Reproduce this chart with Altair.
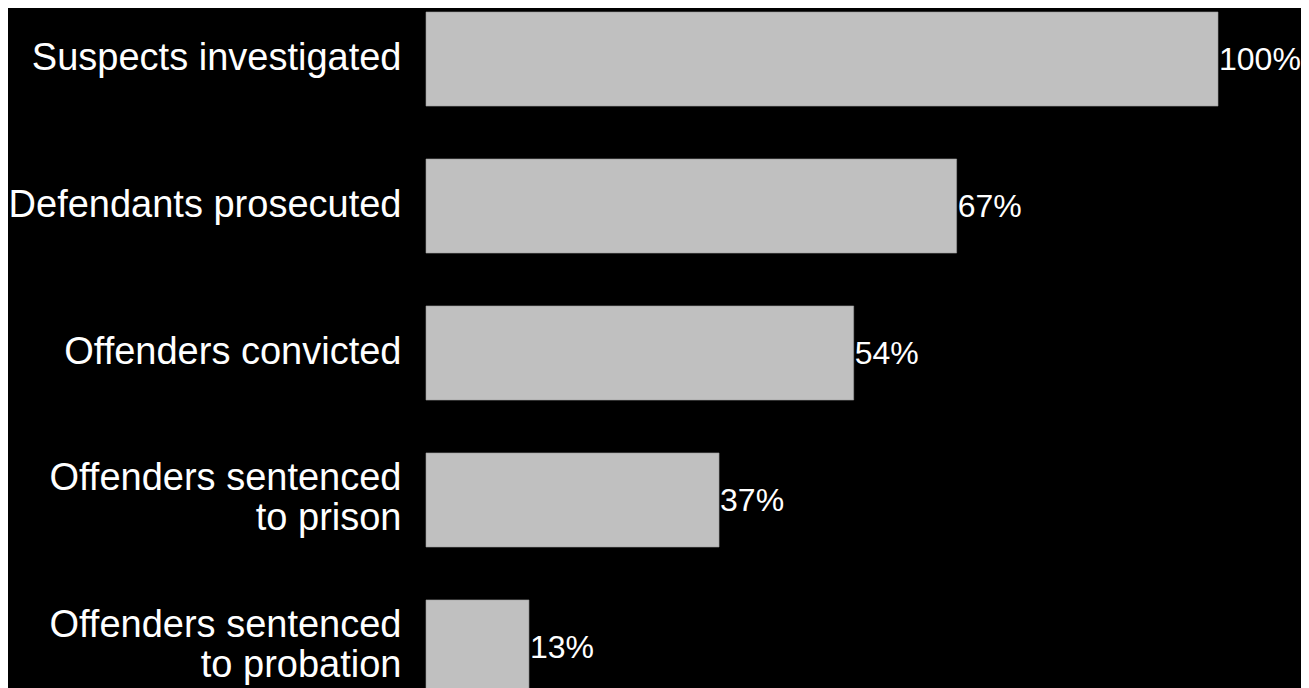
import altair as alt
import pandas as pd

categories = [
    "Suspects investigated",
    "Defendants prosecuted",
    "Offenders convicted",
    "Offenders sentenced to prison",
    "Offenders sentenced to probation",
]
percentages = [100, 67, 54, 37, 13]

df = pd.DataFrame({"stage": categories, "pct": percentages})
df["label"] = df["pct"].astype(str) + "%"

FONT = "Liberation Sans, Arial, Helvetica, sans-serif"

split_expr = (
    "indexof(datum.label, ' to ') > 0 ? "
    "[substring(datum.label, 0, indexof(datum.label, ' to ')), "
    "substring(datum.label, indexof(datum.label, ' to ') + 1)] : datum.label"
)

y_enc = alt.Y(
    "stage:N",
    sort=categories,
    scale=alt.Scale(paddingInner=0.36, paddingOuter=0),
    axis=alt.Axis(
        title=None,
        domain=False,
        ticks=False,
        grid=False,
        labelColor="white",
        labelFont=FONT,
        labelFontSize=38,
        labelLimit=500,
        labelPadding=25,
        labelLineHeight=40,
        labelExpr=split_expr,
        labelOffset={
            "condition": {"test": "indexof(datum.label, ' to ') > 0", "value": -21},
            "value": 0,
        },
    ),
)

x_enc = alt.X("pct:Q", scale=alt.Scale(domain=[0, 100], nice=False), axis=None)

bars = alt.Chart(df).mark_bar(color="#c0c0c0", stroke="#9a9a9a", strokeWidth=0.6).encode(
    y=y_enc, x=x_enc
)

text = alt.Chart(df).mark_text(
    align="left", baseline="middle", dx=1, dy=1, color="white", font=FONT, fontSize=32
).encode(y=alt.Y("stage:N", sort=categories), x="pct:Q", text="label:N")

chart = (
    alt.layer(bars, text)
    .properties(
        width=792,
        height=682,
        background="black",
        padding={"left": 418, "top": 4, "right": 83, "bottom": 0},
        autosize=alt.AutoSizeParams(type="none"),
    )
    .configure_view(stroke=None)
)

chart.save("out.html", embed_options={"renderer": "svg", "actions": False})
